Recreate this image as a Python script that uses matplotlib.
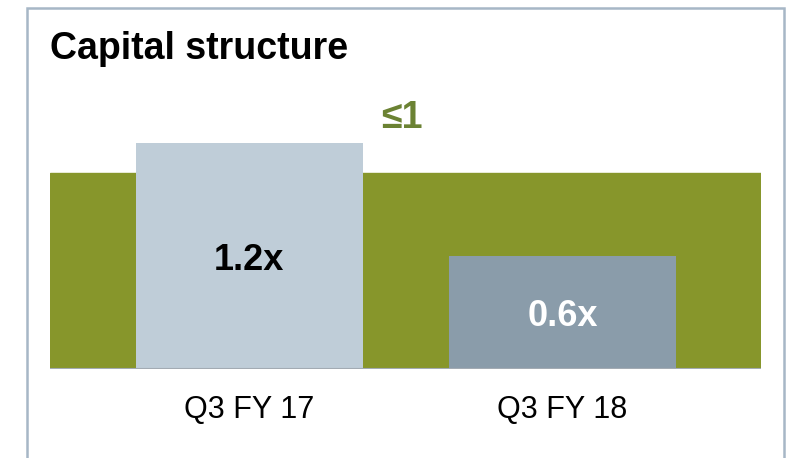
import matplotlib
matplotlib.use("Agg")
import matplotlib.pyplot as plt
from matplotlib.patches import Rectangle

# Data
categories = ["Q3 FY 17", "Q3 FY 18"]
leverage = [1.2, 0.6]
bar_labels = ["1.2x", "0.6x"]
threshold = 1
band_level = 1.04  # drawn height of the target band

plt.rcParams['font.family'] = ['Liberation Sans', 'DejaVu Sans']

W, H = 790, 458
fig = plt.figure(figsize=(W / 100, H / 100), dpi=100)

# outer frame (open at bottom)
frame = Rectangle((27 / W, -0.05), (784 - 27) / W, (1 - 8 / H) + 0.05,
                  transform=fig.transFigure, fill=False,
                  edgecolor='#a7b7c6', linewidth=1.8)
fig.patches.append(frame)

fig.text(50 / W, 1 - 49 / H, "Capital structure", fontsize=27,
         fontweight='bold', color='black', ha='left', va='center')

k = 188.0  # px per unit
ymax = 1.4
ax = fig.add_axes([50 / W, 1 - 369 / H, 711 / W, ymax * k / H])
ax.set_ylim(0, ymax)
x = list(range(len(categories)))
ax.set_xlim(-0.637, 1.634)

ax.axhspan(0, band_level, color='#87962b', zorder=1)
colors = ['#bfcdd8', '#8a9caa']
ax.bar(x, leverage, width=0.725, color=colors, zorder=2)

label_colors = ['black', 'white']
for xi, v, lab, c in zip(x, leverage, bar_labels, label_colors):
    ax.annotate(lab, (xi, v / 2), xytext=(0, -3), textcoords='offset points',
                ha='center', va='center', fontsize=26,
                fontweight='bold', color=c, zorder=3)

ax.annotate(f"\u2264{threshold}", (0.487, 1.351), xytext=(0, -2),
            textcoords='offset points', ha='center', va='center',
            fontsize=27, fontweight='bold', color='#6b8233', zorder=3)

for s in ax.spines.values():
    s.set_visible(False)
ax.axhline(0, color='#a3abb3', linewidth=1.5, zorder=4)
ax.set_yticks([])
ax.set_xticks(x)
ax.set_xticklabels(categories, fontsize=22)
ax.tick_params(axis='x', length=0, pad=19)
ax.patch.set_visible(False)

fig.savefig("out.png", dpi=100)
